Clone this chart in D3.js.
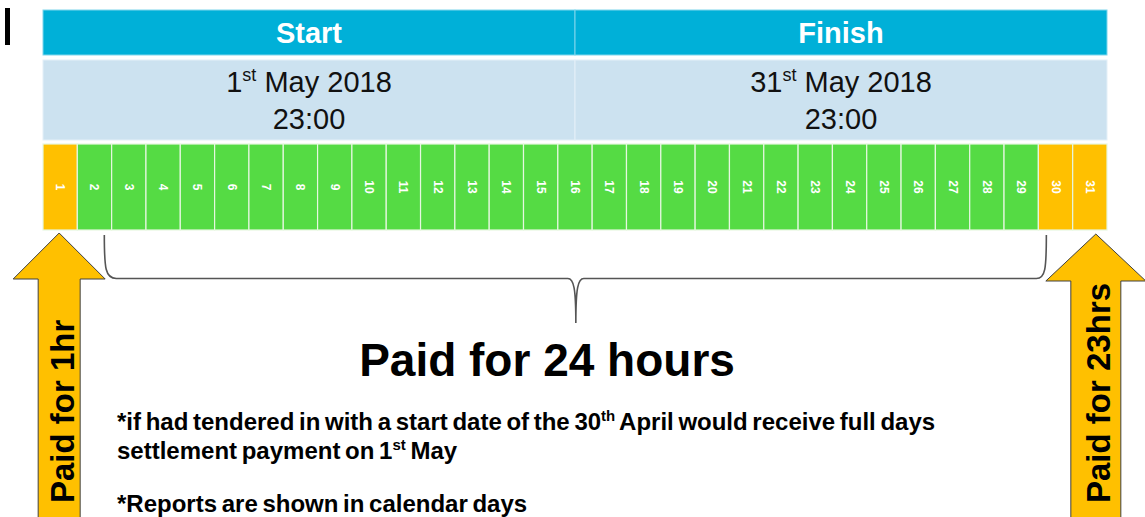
<!DOCTYPE html>
<html><head><meta charset="utf-8">
<script src="https://cdn.jsdelivr.net/npm/d3@7"></script>
<style>
html,body{margin:0;padding:0;background:#fff;}
svg{display:block;font-family:"Liberation Sans",Arial,sans-serif;}
</style></head>
<body>
<svg id="chart" width="1145" height="517"></svg>
<script>
// ---- data ----
const phases = ["Start", "Finish"];
const phaseDay = ["1", "31"];
const phaseDaySup = ["st", "st"];
const phaseMonth = [" May 2018", " May 2018"];
const phaseTime = ["23:00", "23:00"];
const days = [1,2,3,4,5,6,7,8,9,10,11,12,13,14,15,16,17,18,19,20,21,22,23,24,25,26,27,28,29,30,31];
const dayStatus = ["partial","full","full","full","full","full","full","full","full","full","full","full","full","full","full","full","full","full","full","full","full","full","full","full","full","full","full","full","full","partial","partial"];
const arrowLabels = ["Paid for 1hr", "Paid for 23hrs"];
const arrowDays = [1, 31];
const braceLabel = "Paid for 24 hours";
const braceDays = [2, 30];

const svg = d3.select("#chart");
const left = 43, right = 1107;

const xPhase = d3.scaleBand().domain(phases).range([left, right]);
const xDay = d3.scaleBand().domain(days).range([left, right]);
const color = d3.scaleOrdinal().domain(["partial","full"]).range(["#FFC000","#55DB44"]);

// small black mark top-left
svg.append("rect").attr("x",5).attr("y",8).attr("width",5).attr("height",37).attr("fill","#000");

// header rows
const ph = svg.append("g").selectAll("g").data(phases).join("g");
ph.append("rect").attr("x", d => xPhase(d)).attr("y", 10)
  .attr("width", xPhase.bandwidth()).attr("height", 45)
  .attr("fill", "#00B0D8").attr("stroke", "#7fd6ec").attr("stroke-width", 1);
ph.append("rect").attr("x", d => xPhase(d)).attr("y", 60)
  .attr("width", xPhase.bandwidth()).attr("height", 80)
  .attr("fill", "#CCE2F0").attr("stroke", "#e4f0f8").attr("stroke-width", 1);
ph.append("text").attr("x", d => xPhase(d) + xPhase.bandwidth()/2).attr("y", 43)
  .attr("text-anchor","middle").attr("fill","#fff").attr("font-weight","bold")
  .attr("font-size", 29).text(d => d);
const dt = ph.append("text").attr("x", d => xPhase(d) + xPhase.bandwidth()/2).attr("y", 92)
  .attr("text-anchor","middle").attr("fill","#111").attr("font-size", 29);
dt.append("tspan").text((d,i) => phaseDay[i]);
dt.append("tspan").attr("font-size", 18).attr("dy", -11).text((d,i) => phaseDaySup[i]);
dt.append("tspan").attr("dy", 11).text((d,i) => phaseMonth[i]);
ph.append("text").attr("x", d => xPhase(d) + xPhase.bandwidth()/2).attr("y", 129)
  .attr("text-anchor","middle").attr("fill","#111").attr("font-size", 29)
  .text((d,i) => phaseTime[i]);

// day cells
const cells = svg.append("g").selectAll("g").data(days).join("g");
cells.append("rect").attr("x", d => xDay(d)).attr("y", 144)
  .attr("width", xDay.bandwidth()).attr("height", 86)
  .attr("fill", (d,i) => color(dayStatus[i]))
  .attr("stroke", "#e6f7e0").attr("stroke-width", 1.2);
cells.append("text")
  .attr("transform", d => `translate(${xDay(d) + xDay.bandwidth()/2},187) rotate(90)`)
  .attr("text-anchor","middle").attr("dominant-baseline","central")
  .attr("fill","#fff").attr("font-weight","bold").attr("font-size", 12)
  .text(d => d);

// brace
const bx0 = xDay(braceDays[0]) + 27, bx1 = xDay(braceDays[1]) + 8;
const bmid = (bx0 + bx1) / 2 + 0.5;
const by0 = 235, by1 = 278.5, byTip = 323;
const bracePath = d3.path();
bracePath.moveTo(bx0, by0);
bracePath.bezierCurveTo(bx0, by1 - 10, bx0 + 1, by1, bx0 + 12, by1);
bracePath.lineTo(bmid - 8, by1);
bracePath.bezierCurveTo(bmid - 2, by1, bmid, by1 + 10, bmid, byTip);
bracePath.bezierCurveTo(bmid, by1 + 10, bmid + 2, by1, bmid + 8, by1);
bracePath.lineTo(bx1 - 10, by1);
bracePath.bezierCurveTo(bx1 - 1, by1, bx1, by1 - 10, bx1, by0);
svg.append("path").attr("d", bracePath.toString()).attr("fill","none")
  .attr("stroke","#555").attr("stroke-width",1.6);

svg.append("text").attr("x", 547).attr("y", 376).attr("text-anchor","middle")
  .attr("font-weight","bold").attr("font-size", 46).attr("fill","#000").text(braceLabel);

// arrows
const arrowGeom = [
  {tipY: 233, headY: 279, headHalf: 46, shaftHalf: 21, dx: -1},
  {tipY: 234, headY: 281, headHalf: 50, shaftHalf: 25, dx: 6}
];
arrowDays.forEach((d, i) => {
  const g = arrowGeom[i];
  const cx = xDay(d) + xDay.bandwidth()/2 + g.dx;
  const p = d3.path();
  p.moveTo(cx, g.tipY);
  p.lineTo(cx + g.headHalf, g.headY);
  p.lineTo(cx + g.shaftHalf, g.headY);
  p.lineTo(cx + g.shaftHalf, 530);
  p.lineTo(cx - g.shaftHalf, 530);
  p.lineTo(cx - g.shaftHalf, g.headY);
  p.lineTo(cx - g.headHalf, g.headY);
  p.closePath();
  svg.append("path").attr("d", p.toString()).attr("fill","#FFC000")
    .attr("stroke","#404040").attr("stroke-width",1);
  svg.append("text").attr("transform", `translate(${cx + 3},503) rotate(-90)`)
    .attr("text-anchor","start").attr("dominant-baseline","central")
    .attr("font-weight","bold").attr("font-size", 33).attr("fill","#000")
    .text(arrowLabels[i]);
});

// notes
const notes = svg.append("g").attr("font-weight","bold").attr("font-size", 24)
  .attr("fill","#000").attr("word-spacing", -2);
const n1 = notes.append("text").attr("x",117).attr("y",430);
n1.append("tspan").text("*if had tendered in with a start date of the 30");
n1.append("tspan").attr("font-size",15).attr("dy",-9).text("th");
n1.append("tspan").attr("dy",9).text(" April would receive full days");
const n2 = notes.append("text").attr("x",117).attr("y",459);
n2.append("tspan").text("settlement payment on 1");
n2.append("tspan").attr("font-size",15).attr("dy",-9).text("st");
n2.append("tspan").attr("dy",9).text(" May");
notes.append("text").attr("x",117).attr("y",512).text("*Reports are shown in calendar days");
</script>
</body></html>
